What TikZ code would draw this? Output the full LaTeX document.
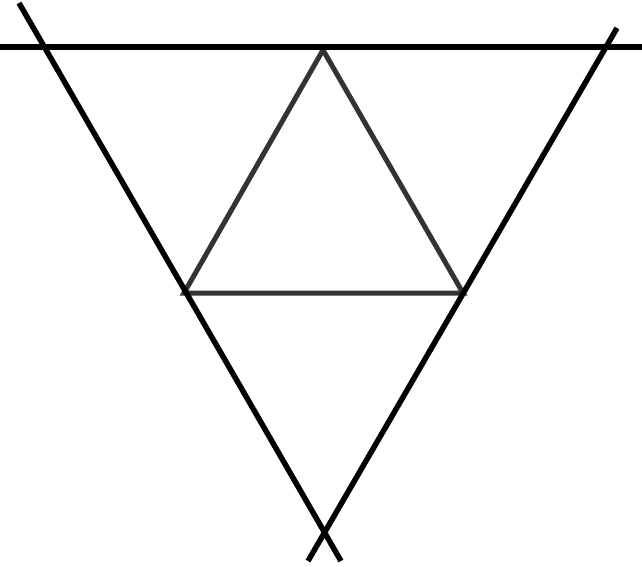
\documentclass[tikz,border=0pt]{standalone}
\begin{document}
\begin{tikzpicture}[x=1pt,y=-1pt,
  blackline/.style={line width=5.5pt,black},
  grayline/.style={line width=5pt,draw=black!80}]
\useasboundingbox (0,0) rectangle (642,566);
\coordinate (hl) at (0,47);
\coordinate (hr) at (642,47);
\coordinate (l1) at (19,3);
\coordinate (l2) at (341,561);
\coordinate (r1) at (617,28);
\coordinate (r2) at (308,561);
\coordinate (A) at (323,50);
\coordinate (B) at (184,293);
\coordinate (C) at (463,293);
\draw[grayline,line join=miter] (A) -- (B) -- (C) -- cycle;
\draw[blackline] (hl) -- (hr);
\draw[blackline] (l1) -- (l2);
\draw[blackline] (r1) -- (r2);
\end{tikzpicture}
\end{document}
